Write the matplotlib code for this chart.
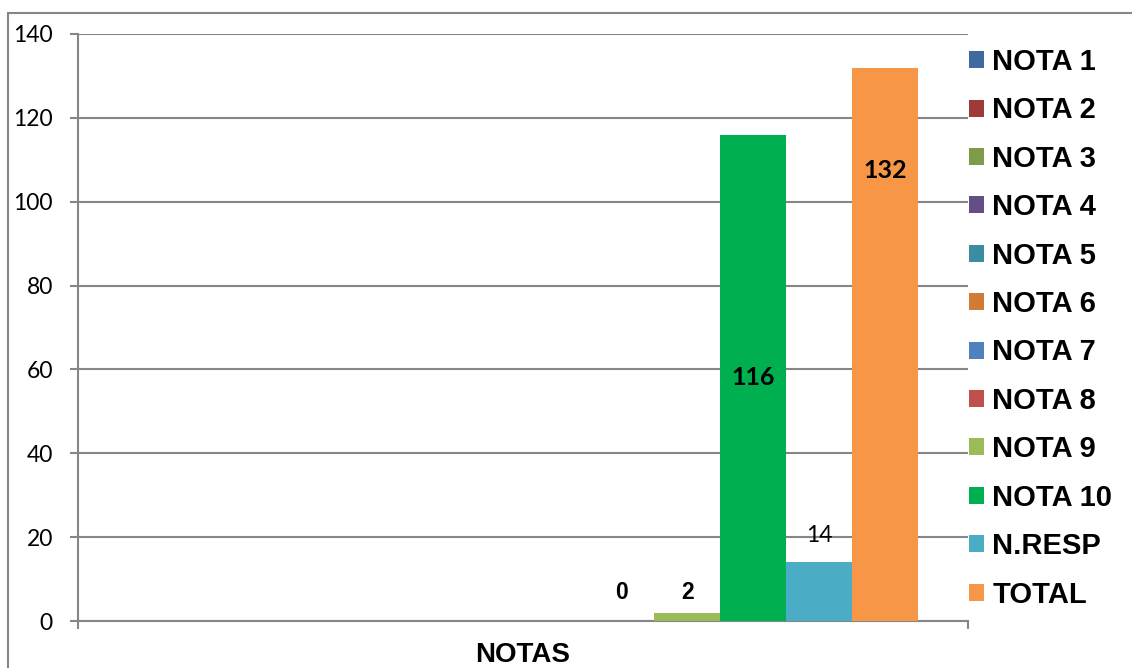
import numpy as np
import matplotlib.pyplot as plt
from matplotlib.patches import Patch, Rectangle

# Datos del gráfico
series = ['NOTA 1', 'NOTA 2', 'NOTA 3', 'NOTA 4', 'NOTA 5', 'NOTA 6',
          'NOTA 7', 'NOTA 8', 'NOTA 9', 'NOTA 10', 'N.RESP', 'TOTAL']
values = [np.nan, np.nan, np.nan, np.nan, np.nan, np.nan,
          np.nan, 0, 2, 116, 14, 132]
colors = ['#3E6A9F', '#9E3B38', '#7F9A48', '#644E86', '#3C8DA3', '#D07C34',
          '#4F81BD', '#C0504D', '#9BBB59', '#00B050', '#4BACC6', '#F79646']
category = 'NOTAS'
yticks = [0, 20, 40, 60, 80, 100, 120, 140]

W, H = 1132, 668
fig = plt.figure(figsize=(W / 100, H / 100), dpi=100)
ax = fig.add_axes([78 / W, 47 / H, 890 / W, 587 / H])

grey = '#868686'
x = np.arange(len(series))
bars = ax.bar(x, values, width=1.0, color=colors, zorder=3)

ax.set_xlim(-0.5 - 49 / 66, 11.5 + 50 / 66)
ax.set_ylim(0, 140)
ax.set_yticks(yticks)
ax.set_yticklabels([str(t) for t in yticks], family='Lato', fontsize=16.5)
ax.tick_params(axis='y', length=6, color=grey, width=1.5, pad=12)
ax.yaxis.grid(True, color=grey, linewidth=1.5, zorder=0)
ax.set_axisbelow(True)

# ticks de categoria en los bordes
ax.set_xticks([ax.get_xlim()[0], ax.get_xlim()[1]])
ax.set_xticklabels(['', ''])
ax.tick_params(axis='x', length=6, color=grey, width=1.5)
ax.text(5.5, -0.058, category, transform=ax.get_xaxis_transform(),
        ha='center', va='center', family='Liberation Sans',
        fontweight='bold', fontsize=20)

for s in ['top', 'right']:
    ax.spines[s].set_visible(False)
for s in ['left', 'bottom']:
    ax.spines[s].set_color(grey)
    ax.spines[s].set_linewidth(1.5)

# etiquetas de datos
def label(i, y, **kw):
    ax.text(x[i], y, str(values[i]), ha='center', va='center', zorder=4, **kw)

label(7, values[7] + 6.7, family='Liberation Sans', fontweight='bold', fontsize=16.5)
label(8, values[8] + 4.7, family='Liberation Sans', fontweight='bold', fontsize=16.5)
label(9, values[9] / 2, family='Lato', fontweight='bold', fontsize=18)
label(10, values[10] + 6.5, family='Lato', fontsize=16.5)
label(11, values[11] - 24.6, family='Lato', fontweight='bold', fontsize=18)

handles = [Patch(facecolor=c, edgecolor='none') for c in colors]
fig.legend(handles, series, loc='upper left',
           bbox_to_anchor=(969 / W, 1 - 48 / H), frameon=False,
           prop={'family': 'Liberation Sans', 'weight': 'bold', 'size': 21},
           handlelength=0.52, handleheight=0.52, handletextpad=0.28,
           labelspacing=0.70, borderaxespad=0, borderpad=0)

# marco exterior
fig.patches.append(Rectangle((8 / W, -0.1), 1.2, 1 - 13 / H + 0.1,
                             transform=fig.transFigure, fill=False,
                             edgecolor=grey, linewidth=1.5))

fig.savefig('out.png', dpi=100)
